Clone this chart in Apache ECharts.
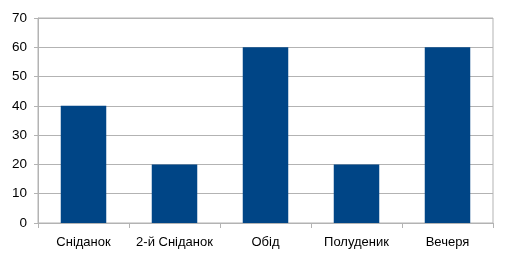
<!DOCTYPE html>
<html><head><meta charset="utf-8">
<script src="https://cdn.jsdelivr.net/npm/echarts@6/dist/echarts.min.js"></script>
<style>html,body{margin:0;padding:0;background:#fff}#c{width:506px;height:256px}</style>
</head><body><div id="c"></div>
<script>
const categories = ['Сніданок', '2-й Сніданок', 'Обід', 'Полуденик', 'Вечеря'];
const values = [40, 20, 60, 20, 60];
const yTicks = [0, 10, 20, 30, 40, 50, 60, 70];
const chart = echarts.init(document.getElementById('c'), null, {renderer: 'canvas'});
const grey = '#b3b3b3';
chart.setOption({
  animation: false,
  grid: {left: 38, right: 13, top: 18, bottom: 33, show: true, borderColor: grey, borderWidth: 1, backgroundColor: 'transparent'},
  xAxis: {
    type: 'category', data: categories, boundaryGap: true,
    axisLine: {show: true, lineStyle: {color: grey}},
    axisTick: {show: true, length: 5, interval: 0, lineStyle: {color: grey}, alignWithLabel: false},
    axisLabel: {interval: 0, color: '#000', fontFamily: 'Liberation Sans, Arial', fontSize: 13, margin: 13}
  },
  yAxis: {
    type: 'value', min: yTicks[0], max: yTicks[yTicks.length - 1], interval: 10,
    axisLine: {show: true, lineStyle: {color: grey}},
    axisTick: {show: true, length: 4, lineStyle: {color: grey}},
    splitLine: {show: true, lineStyle: {color: grey}},
    axisLabel: {color: '#000', fontFamily: 'Liberation Sans, Arial', fontSize: 13.5, margin: 11}
  },
  series: [{type: 'bar', data: values, barWidth: '50%', itemStyle: {color: '#004586'}}]
});
</script></body></html>
